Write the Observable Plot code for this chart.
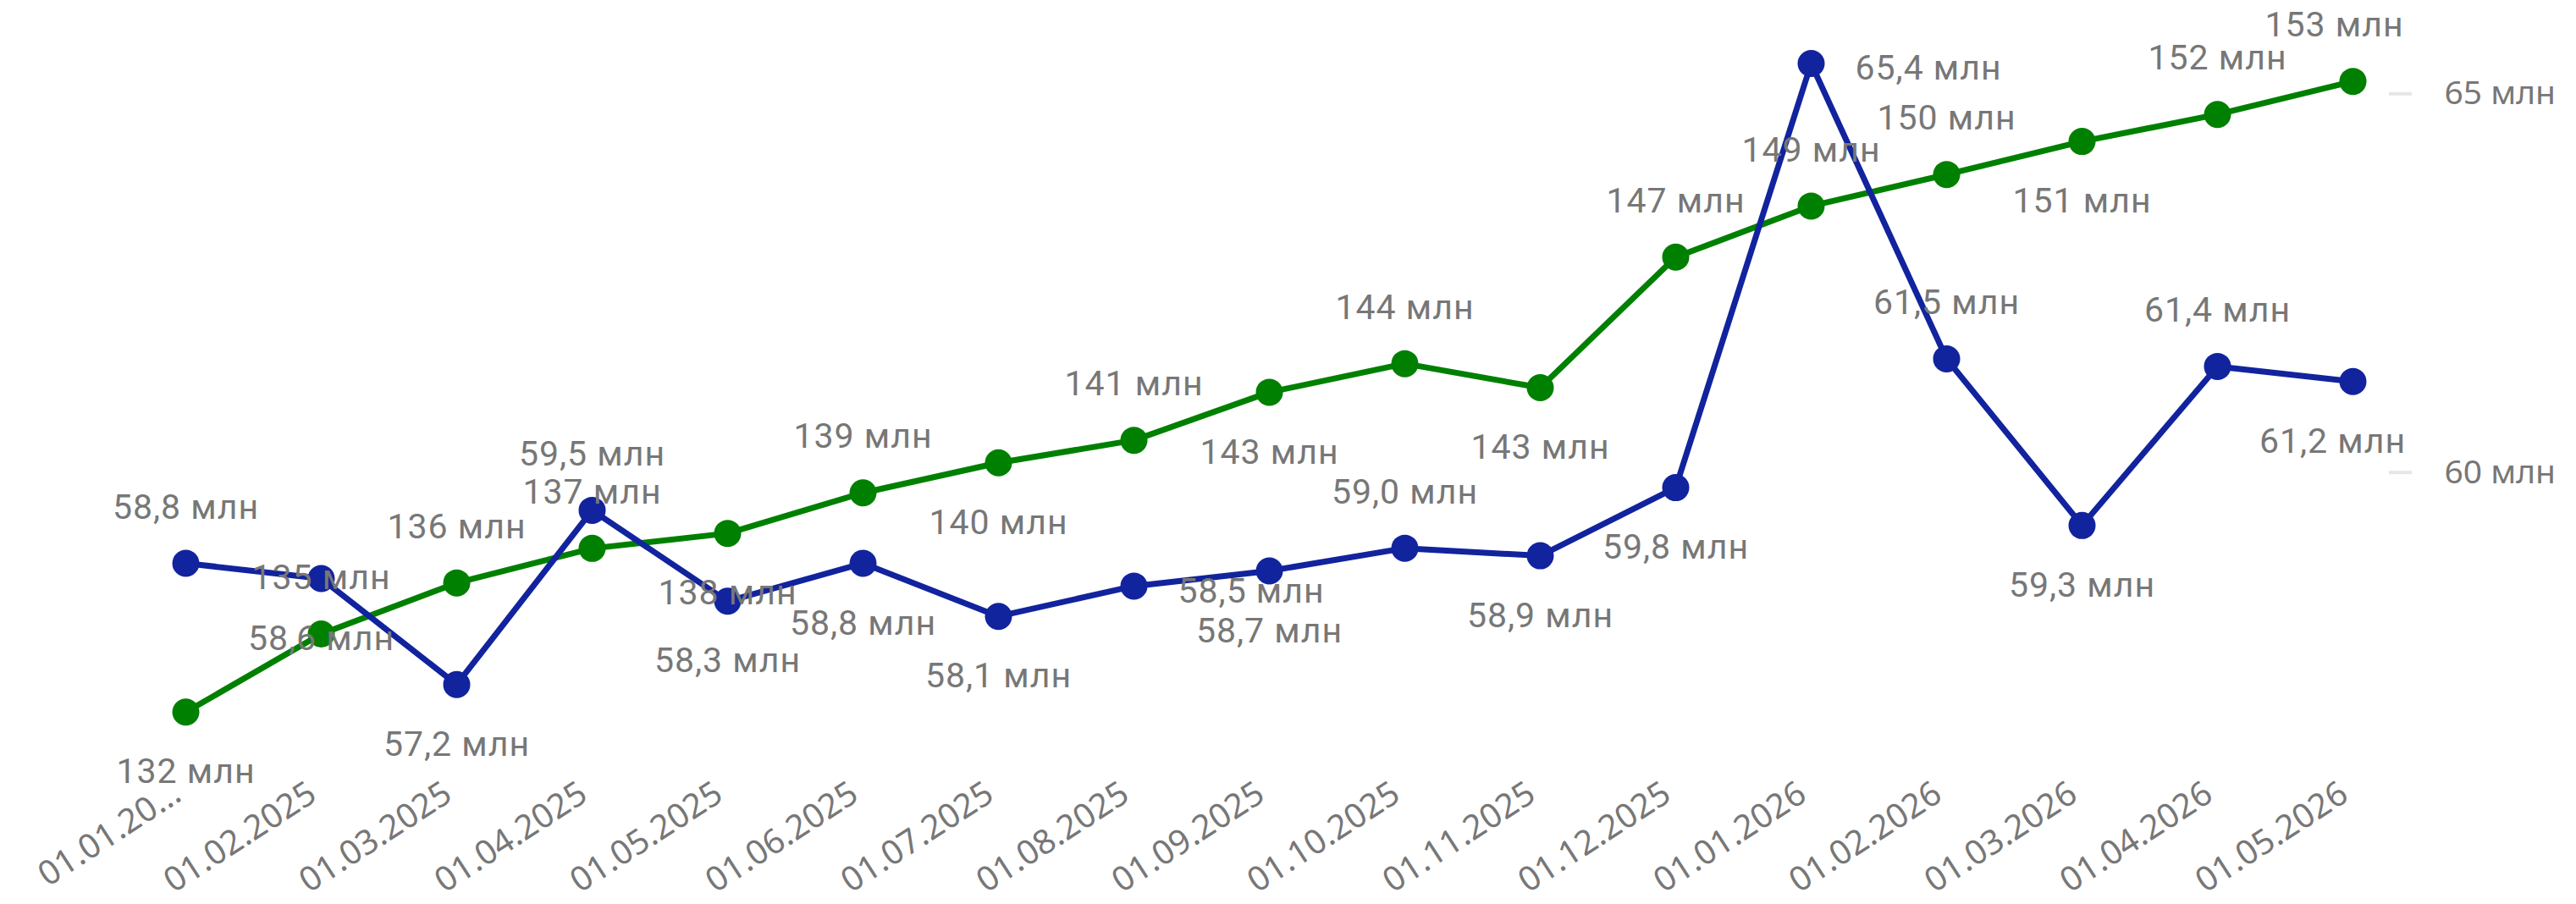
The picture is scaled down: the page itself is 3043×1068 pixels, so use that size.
<!DOCTYPE html>
<html>
<head>
<meta charset="utf-8">
<script src="https://cdn.jsdelivr.net/npm/d3@7"></script>
<script src="https://cdn.jsdelivr.net/npm/@observablehq/plot@0.6"></script>
<style>
  html, body { margin: 0; padding: 0; background: #ffffff; }
  #chart { position: relative; width: 3043px; height: 1068px; }
  #chart > svg { position: absolute; left: 0; top: 0; }
  .dl text { letter-spacing: 1px; }
</style>
</head>
<body>
<div id="chart"></div>
<script>
// ---- data ----
const categories = ["01.01.2025","01.02.2025","01.03.2025","01.04.2025","01.05.2025","01.06.2025","01.07.2025","01.08.2025","01.09.2025","01.10.2025","01.11.2025","01.12.2025","01.01.2026","01.02.2026","01.03.2026","01.04.2026","01.05.2026"];
const tickLabels = ["01.01.20...","01.02.2025","01.03.2025","01.04.2025","01.05.2025","01.06.2025","01.07.2025","01.08.2025","01.09.2025","01.10.2025","01.11.2025","01.12.2025","01.01.2026","01.02.2026","01.03.2026","01.04.2026","01.05.2026"];
// blue series (right axis, млн)
const blueValues = [58.8, 58.6, 57.2, 59.5, 58.3, 58.8, 58.1, 58.5, 58.7, 59.0, 58.9, 59.8, 65.4, 61.5, 59.3, 61.4, 61.2];
// green series (hidden axis, млн)
const greenValues = [132.0, 134.6, 136.3, 137.45, 137.95, 139.3, 140.3, 141.05, 142.65, 143.6, 142.8, 147.15, 148.85, 149.9, 151.0, 151.9, 153.0];
const blueTicks = [60, 65];
// label placement relative to each point
const blueLabelPos = ["above","below","below","above","below","below","below","right","below","above","below","below","right","above","below","above","below"];
const greenLabelPos = ["below","above","above","above","below","above","below","above","below","above","below","above","above","above","below","above","above"];

// ---- layout / style ----
const W = 3043, H = 1068;
const BLUE = "#12239E", GREEN = "#008000", GRAY = "#777777";
const xRange = [216, 2782];
const yRange = [915.6, 20.8];
const common = {
  width: W, height: H,
  marginLeft: 0, marginRight: 222, marginTop: 0, marginBottom: 153,
  style: {background: "transparent", fontFamily: "'Noto Sans', sans-serif", overflow: "visible"}
};
const xScale = {type: "point", domain: categories, range: xRange, padding: 0};
const blueY = {domain: [56, 66], range: yRange};
const greenY = {domain: [129.89, 155.11], range: yRange};

const mk = (vals, pos) => categories.map((c, i) => ({cat: c, value: vals[i], pos: pos[i], last: i === categories.length - 1}));
const blueData = mk(blueValues, blueLabelPos);
const greenData = mk(greenValues, greenLabelPos);

const fmtBlue = d => d.value.toFixed(1).replace(".", ",") + " млн";
const fmtGreen = d => Math.round(d.value) + " млн";

function labels(data, fmt) {
  const base = {x: "cat", y: "value", text: fmt, fill: GRAY, fontSize: 41, fontFamily: "Roboto, sans-serif", lineAnchor: "middle"};
  return [
    Plot.text(data, {...base, filter: d => d.pos === "above" && !d.last, dy: -66}),
    Plot.text(data, {...base, filter: d => d.pos === "above" && d.last, dy: -66, dx: -22}),
    Plot.text(data, {...base, filter: d => d.pos === "below" && !d.last, dy: 71}),
    Plot.text(data, {...base, filter: d => d.pos === "below" && d.last, dy: 71, dx: -24}),
    Plot.text(data, {...base, filter: d => d.pos === "right", dx: 52, dy: 6, textAnchor: "start"})
  ];
}

const greenLayer = Plot.plot({
  ...common, x: xScale, y: greenY,
  marks: [
    Plot.line(greenData, {x: "cat", y: "value", stroke: GREEN, strokeWidth: 7, strokeLinejoin: "round"}),
    Plot.dot(greenData, {x: "cat", y: "value", r: 16, fill: GREEN})
  ],
  axis: null
});

const blueLayer = Plot.plot({
  ...common, x: xScale, y: blueY,
  marks: [
    Plot.axisX({anchor: "bottom", tickSize: 0, tickPadding: 18, tickRotate: -33, dx: -10,
      tickFormat: d => tickLabels[categories.indexOf(d)], fill: GRAY, fontSize: 40, label: null}),
    Plot.axisY({anchor: "right", ticks: blueTicks, tickFormat: d => d + " млн", tickSize: 27, tickPadding: 39,
      stroke: "#e6e6e6", strokeWidth: 4, fill: GRAY, fontSize: 39, label: null}),
    Plot.line(blueData, {x: "cat", y: "value", stroke: BLUE, strokeWidth: 7, strokeLinejoin: "round"}),
    Plot.dot(blueData, {x: "cat", y: "value", r: 16, fill: BLUE})
  ]
});

const greenLabels = Plot.plot({...common, x: xScale, y: greenY, axis: null, marks: labels(greenData, fmtGreen)});
const blueLabels = Plot.plot({...common, x: xScale, y: blueY, axis: null, marks: labels(blueData, fmtBlue)});
greenLabels.classList.add("dl");
blueLabels.classList.add("dl");

const chart = document.getElementById("chart");
[greenLayer, blueLayer, greenLabels, blueLabels].forEach(s => chart.appendChild(s));
</script>
</body>
</html>
